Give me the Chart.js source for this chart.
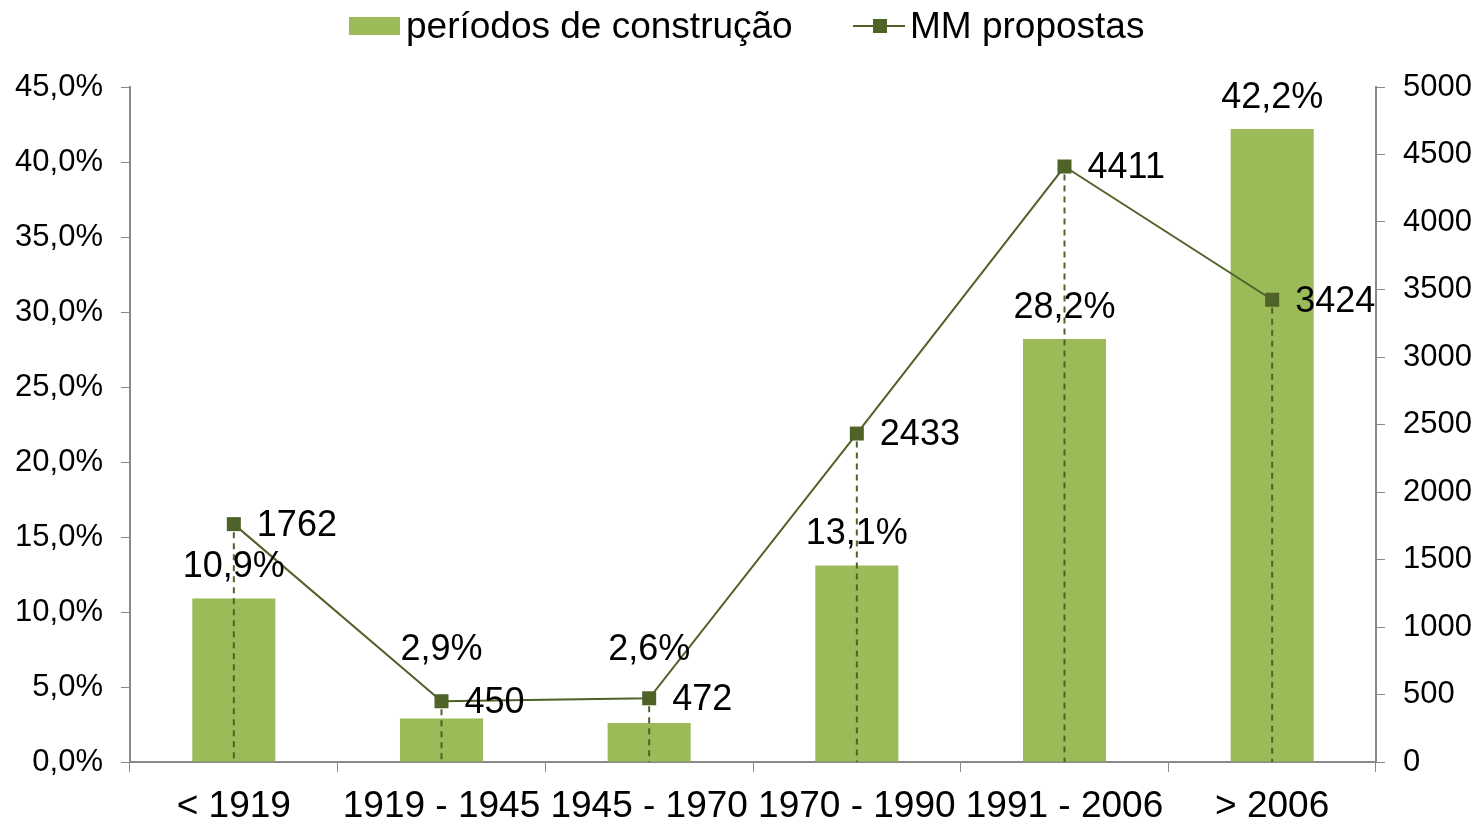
<!DOCTYPE html>
<html><head><meta charset="utf-8">
<script src="https://cdn.jsdelivr.net/npm/chart.js@4.4.0/dist/chart.umd.min.js"></script>
<style>html,body{margin:0;padding:0;background:#fff}#wrap{width:1478px;height:823px;position:relative}</style>
</head><body><div id="wrap"><canvas id="c"></canvas></div>
<script>
const categories = ['< 1919', '1919 - 1945', '1945 - 1970', '1970 - 1990', '1991 - 2006', '> 2006'];
const periodShare = [10.9, 2.9, 2.6, 13.1, 28.2, 42.2];
const mmProposals = [1762, 450, 472, 2433, 4411, 3424];
const seriesNames = ['períodos de construção', 'MM propostas'];

const BAR = '#9BBB59', LINE = '#4F6228', AXIS = '#898989', TXT = '#000';
const FONT = '"Liberation Sans", Arial, sans-serif';
const barLabelLift = [0, 37, 42, 0, 0, 0];

const fmtPct = v => v.toFixed(1).replace('.', ',') + '%';

const labelsPlugin = {
  id: 'labelsPlugin',
  afterDatasetsDraw(chart) {
    const ctx = chart.ctx, area = chart.chartArea;
    const bars = chart.getDatasetMeta(0).data;
    const pts = chart.getDatasetMeta(1).data;
    ctx.save();
    ctx.strokeStyle = LINE; ctx.lineWidth = 2; ctx.setLineDash([6, 5]);
    pts.forEach(p => {
      ctx.beginPath(); ctx.moveTo(p.x, p.y + 8); ctx.lineTo(p.x, area.bottom); ctx.stroke();
    });
    ctx.setLineDash([]);
    pts.forEach(p => { ctx.fillStyle = LINE; ctx.fillRect(p.x - 7, p.y - 7, 14, 14); });
    ctx.fillStyle = TXT; ctx.font = '36px ' + FONT; ctx.textBaseline = 'middle';
    ctx.textAlign = 'center';
    bars.forEach((b, i) => ctx.fillText(fmtPct(periodShare[i]), b.x, b.y - 31 - barLabelLift[i]));
    ctx.textAlign = 'left';
    pts.forEach((p, i) => ctx.fillText(String(mmProposals[i]), p.x + 23, p.y + 2));
    ctx.restore();
  },
  afterDraw(chart) {
    const ctx = chart.ctx;
    ctx.save();
    ctx.font = '37px ' + FONT; ctx.textBaseline = 'middle'; ctx.textAlign = 'left';
    ctx.fillStyle = BAR; ctx.fillRect(349, 17, 51, 18);
    ctx.fillStyle = TXT; ctx.fillText(seriesNames[0], 406, 28);
    ctx.strokeStyle = LINE; ctx.lineWidth = 2;
    ctx.beginPath(); ctx.moveTo(853, 26); ctx.lineTo(905, 26); ctx.stroke();
    ctx.fillStyle = LINE; ctx.fillRect(873, 19, 14, 14);
    ctx.fillStyle = TXT; ctx.fillText(seriesNames[1], 910, 28);
    ctx.restore();
  }
};

new Chart(document.getElementById('c'), {
  data: {
    labels: categories,
    datasets: [
      { type: 'bar', label: seriesNames[0], data: periodShare, backgroundColor: BAR, yAxisID: 'y',
        barPercentage: 0.4, categoryPercentage: 1, order: 2 },
      { type: 'line', label: seriesNames[1], data: mmProposals, borderColor: LINE, backgroundColor: LINE,
        borderWidth: 2, pointStyle: 'rect', pointRadius: 7, pointHoverRadius: 7, yAxisID: 'y1',
        tension: 0, order: 1 }
    ]
  },
  options: {
    responsive: true, maintainAspectRatio: false, animation: false,
    layout: { padding: { top: 87, left: 0, right: 0, bottom: 0 } },
    plugins: { legend: { display: false }, tooltip: { enabled: false } },
    scales: {
      x: {
        grid: { display: true, drawOnChartArea: false, tickLength: 10, color: AXIS, offset: true },
        border: { color: AXIS, width: 2 },
        ticks: { color: TXT, font: { family: FONT, size: 37 }, maxRotation: 0, minRotation: 0, autoSkip: false, padding: 13 },
        afterFit(s) { s.height = 61; }
      },
      y: {
        position: 'left', min: 0, max: 45,
        grid: { drawOnChartArea: false, tickLength: 9, color: AXIS },
        border: { color: AXIS, width: 2 },
        ticks: { stepSize: 5, color: TXT, font: { family: FONT, size: 31 }, padding: 18, callback: v => fmtPct(v) },
        afterFit(s) { s.width = 130; }
      },
      y1: {
        position: 'right', min: 0, max: 5000,
        grid: { drawOnChartArea: false, tickLength: 9, color: AXIS },
        border: { color: AXIS, width: 2 },
        ticks: { stepSize: 500, color: TXT, font: { family: FONT, size: 31 }, padding: 18, callback: v => String(v) },
        afterFit(s) { s.width = 102; }
      }
    }
  },
  plugins: [labelsPlugin]
});
</script></body></html>
